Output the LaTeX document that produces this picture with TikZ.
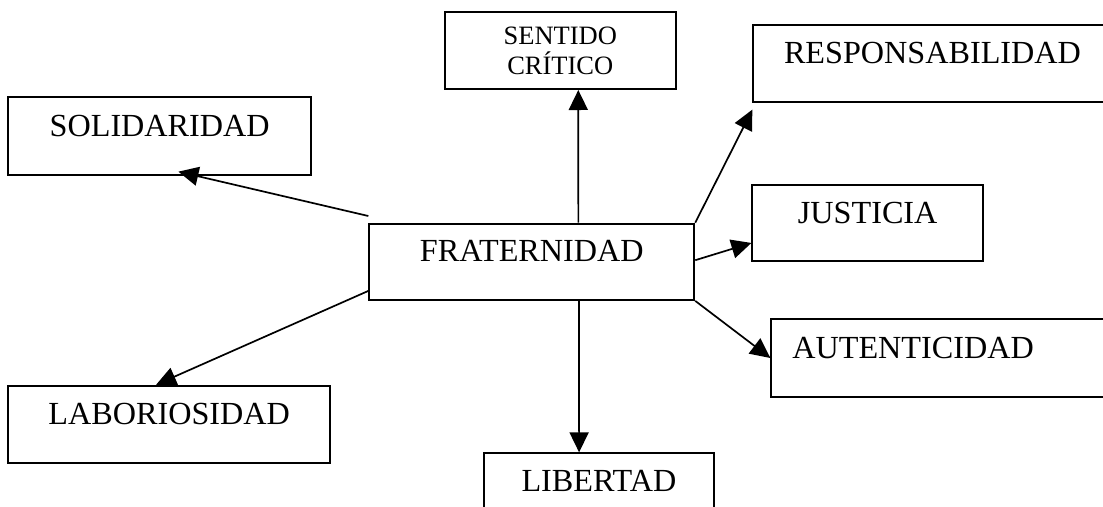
\documentclass[tikz,border=0pt]{standalone}
\usepackage{fontspec}
\setmainfont{Liberation Serif}
\usetikzlibrary{arrows.meta,calc}
\tikzset{
  box/.style={draw, line width=1.9pt, rectangle, inner sep=0pt,
    text height=12pt, text depth=12pt, font=\fontsize{32.2}{38}\selectfont},
  smallbox/.style={draw, line width=1.9pt, rectangle, inner sep=0pt,
    align=center, font=\fontsize{26.5}{30.6}\selectfont},
  arr/.style={line width=1.7pt, -{Triangle[length=20pt,width=19pt]}},
}
\begin{document}
\begin{tikzpicture}[x=1pt,y=-1pt]
\useasboundingbox (0,0) rectangle (1103,506);
\clip (0,0) rectangle (1103,506);
\node[smallbox, minimum width=230.7pt, minimum height=76.7pt] (sen) at (560.3,50.7) {SENTIDO\\CRÍTICO};
\node[box, minimum width=358.4pt, minimum height=76.7pt] (resp) at (932.5,63.3) {RESPONSABILIDAD};
\node[box, minimum width=302.7pt, minimum height=77.4pt] (sol) at (159.7,136) {SOLIDARIDAD};
\node[box, minimum width=325pt, minimum height=76.3pt] (frat) at (531.8,261.8) {FRATERNIDAD};
\node[box, minimum width=230.7pt, minimum height=76pt] (just) at (867.7,223) {JUSTICIA};
\node[box, text width=311.7pt, align=left, inner xsep=21pt, minimum height=77.4pt] (aut) at (948.2,358) {AUTENTICIDAD};
\node[box, minimum width=321.7pt, minimum height=77pt] (lab) at (169.2,424.2) {LABORIOSIDAD};
\node[box, minimum width=230.3pt, minimum height=77pt] (lib) at (598.9,491.8) {LIBERTAD};

\draw[arr] ($(frat.north west)+(210,0)$) -- ($(sen.south west)+(134.3,0)$);
\draw[arr] (frat.north east) -- ($(resp.south west)+(0,7)$);
\draw[arr] ($(frat.north east)+(0,37.5)$) -- ($(just.south west)+(0,-19)$);
\draw[arr] (frat.south east) -- (aut.west);
\draw[arr] ($(frat.south west)+(210.7,0)$) -- ($(lib.north west)+(96.3,0)$);
\draw[arr] ($(frat.south west)+(0,-10)$) -- ($(lab.north west)+(148.7,0)$);
\draw[arr] ($(frat.north west)+(0,-6.7)$) -- ($(sol.south west)+(171,-4)$);
\end{tikzpicture}
\end{document}
